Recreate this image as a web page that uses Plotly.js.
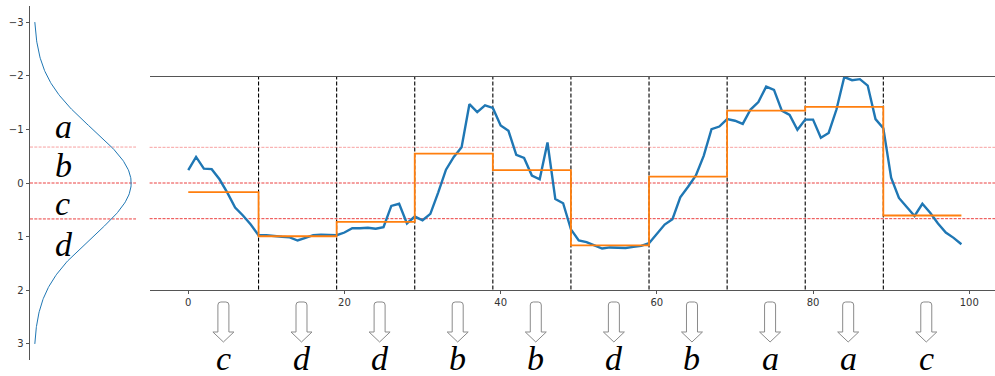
<!DOCTYPE html>
<html>
<head>
<meta charset="utf-8">
<script src="https://cdn.plot.ly/plotly-3.0.1.min.js"></script>
<style>
  html, body { margin: 0; padding: 0; background: #fff; }
  #chart { width: 995px; height: 376px; }
</style>
</head>
<body>
<div id="chart"></div>
<script>
// Time series (z-normalised), one value per time step 0..99
const series = [
  -0.24, -0.49, -0.27, -0.26, -0.07, 0.18, 0.46, 0.61, 0.78, 0.98,
   0.98, 1.00, 1.01, 1.02, 1.08, 1.03, 0.98, 0.97, 0.97, 0.98,
   0.93, 0.85, 0.85, 0.84, 0.86, 0.83, 0.43, 0.39, 0.76, 0.63,
   0.70, 0.58, 0.18, -0.25, -0.49, -0.67, -1.48, -1.33, -1.46, -1.41,
  -1.08, -0.98, -0.53, -0.47, -0.14, -0.07, -0.76, 0.30, 0.38, 0.87,
   1.08, 1.11, 1.17, 1.23, 1.21, 1.21, 1.22, 1.20, 1.18, 1.13,
   0.96, 0.78, 0.68, 0.27, 0.07, -0.14, -0.51, -1.01, -1.06, -1.20,
  -1.17, -1.11, -1.38, -1.52, -1.81, -1.75, -1.36, -1.28, -1.00, -1.19,
  -1.19, -0.85, -0.94, -1.38, -1.99, -1.93, -1.95, -1.83, -1.20, -1.03,
  -0.10, 0.28, 0.45, 0.62, 0.39, 0.56, 0.76, 0.93, 1.03, 1.15
];

// Piecewise aggregate approximation: mean of each 10-step segment
const paaMeans = [0.17, 1.00, 0.73, -0.55, -0.24, 1.17, -0.12, -1.36, -1.43, 0.61];

// SAX symbol assigned to each segment
const saxSymbols = ['c', 'd', 'd', 'b', 'b', 'd', 'b', 'a', 'a', 'c'];

// Gaussian breakpoints splitting N(0,1) into 4 equiprobable bands
const breakpoints = [-0.67, 0, 0.67];
const alphabet = ['a', 'b', 'c', 'd'];

const segLen = 10;
const timeIndex = series.map((_, i) => i);
const paaPerStep = timeIndex.map(i => paaMeans[Math.floor(i / segLen)]);

// Standard normal density for the side panel
function normalPdf(z) { return Math.exp(-0.5 * z * z) / Math.sqrt(2 * Math.PI); }
const gaussZ = [];
for (let k = 0; k <= 240; k++) gaussZ.push(-3 + k * 0.025);
const gaussP = gaussZ.map(normalPdf);

// ---- layout geometry (pixels of a 995 x 376 canvas) ----
const W = 995, H = 376;
const mainDomX = [149.6 / W, 1];
const mainRangeX = [-4.95, 103.3];
const mainDomY = [1 - 289.5 / H, 1 - 76.5 / H];
const sideDomX = [30 / W, 136 / W];
const sideDomY = [1 - 360 / H, 1 - 6 / H];
const pxY = py => 1 - py / H;
const dataToPaperX = v => mainDomX[0] + (v - mainRangeX[0]) / (mainRangeX[1] - mainRangeX[0]) * (mainDomX[1] - mainDomX[0]);

const blue = '#1f77b4', orange = '#ff7f0e';
const axisGrey = '#555';
const tickFont = { family: 'DejaVu Sans', size: 10, color: '#333' };
const letterFont = { family: 'Liberation Serif', size: 34, color: '#000' };

const traces = [
  { x: timeIndex, y: series, xaxis: 'x', yaxis: 'y', mode: 'lines',
    line: { color: blue, width: 2.4 }, hoverinfo: 'skip' },
  { x: timeIndex, y: paaPerStep, xaxis: 'x', yaxis: 'y', mode: 'lines',
    line: { color: orange, width: 1.8, shape: 'vh' }, hoverinfo: 'skip' },
  { x: gaussP, y: gaussZ, xaxis: 'x2', yaxis: 'y2', mode: 'lines',
    line: { color: blue, width: 1 }, hoverinfo: 'skip' }
];

const shapes = [];
// breakpoint lines across both panels
breakpoints.forEach((b, k) => {
  const col = k === 0 ? 'rgba(240,80,80,0.6)' : 'rgba(232,30,30,0.95)';
  ['', '2'].forEach(s => {
    shapes.push({ type: 'line', xref: 'x' + s + ' domain', yref: 'y' + s,
      x0: 0, x1: 1, y0: b, y1: b, layer: 'below',
      line: { color: col, width: 0.9, dash: '3px,1.3px' } });
  });
});
// segment boundaries (where the step changes level)
for (let k = 1; k < paaMeans.length; k++) {
  const xb = k * segLen - 1;
  shapes.push({ type: 'line', xref: 'x', yref: 'y domain', x0: xb, x1: xb, y0: 0, y1: 1,
    layer: 'below', line: { color: '#000', width: 1.1, dash: '4px,2px' } });
}
// hollow down arrows under each segment, with the segment's symbol beneath
const annotations = [];
paaMeans.forEach((_, k) => {
  const c = k * segLen + (segLen - 1) / 2;
  const cx = dataToPaperX(c);
  const hs = 5.5 / W, hh = 10.5 / W, r = 3;
  const top = 302, sb = 332, tip = 342;
  const X = dx => (cx + dx).toFixed(5);
  const Y = py => pxY(py).toFixed(5);
  const rx = r / W;
  const path = `M${X(-hs)},${Y(sb)} L${X(-hs)},${Y(top + r)} Q${X(-hs)},${Y(top)} ${X(-hs + rx)},${Y(top)} ` +
    `L${X(hs - rx)},${Y(top)} Q${X(hs)},${Y(top)} ${X(hs)},${Y(top + r)} L${X(hs)},${Y(sb)} ` +
    `L${X(hh)},${Y(sb)} L${X(0)},${Y(tip)} L${X(-hh)},${Y(sb)} Z`;
  shapes.push({ type: 'path', xref: 'paper', yref: 'paper', path: path,
    fillcolor: '#fff', line: { color: '#8a8a8a', width: 1 } });
  annotations.push({ xref: 'x', yref: 'paper', x: c, y: pxY(379), yanchor: 'bottom',
    text: '<i>' + saxSymbols[k] + '</i>', showarrow: false, font: letterFont });
});
// band letters in the side panel
const bandBaselinePx = [137, 176, 213, 255];
alphabet.forEach((s, k) => {
  annotations.push({ xref: 'paper', yref: 'paper', x: 53 / W, y: pxY(bandBaselinePx[k] - 10),
    yanchor: 'middle', text: '<i>' + s + '</i>', showarrow: false, font: letterFont });
});

const layout = {
  width: W, height: H,
  margin: { l: 0, r: 0, t: 0, b: 0 },
  paper_bgcolor: '#fff', plot_bgcolor: 'rgba(0,0,0,0)',
  showlegend: false,
  xaxis: { domain: mainDomX, range: mainRangeX, anchor: 'y',
    showline: true, mirror: true, linecolor: axisGrey, linewidth: 1,
    showgrid: false, zeroline: false,
    tickmode: 'array', tickvals: [0, 20, 40, 60, 80, 100],
    ticks: 'outside', ticklen: 3.5, tickcolor: axisGrey, tickfont: tickFont },
  yaxis: { domain: mainDomY, range: [2, -2], anchor: 'x',
    showline: false, showgrid: false, zeroline: false, showticklabels: false, ticks: '' },
  xaxis2: { domain: sideDomX, range: [-0.0153, 0.4186], anchor: 'y2',
    showline: false, showgrid: false, zeroline: false, showticklabels: false, ticks: '' },
  yaxis2: { domain: sideDomY, range: [3.3, -3.3], anchor: 'x2',
    showline: true, linecolor: axisGrey, linewidth: 1, showgrid: false, zeroline: false,
    tickmode: 'array', tickvals: [-3, -2, -1, 0, 1, 2, 3],
    ticks: 'outside', ticklen: 3.5, tickcolor: axisGrey, tickfont: tickFont },
  shapes: shapes,
  annotations: annotations
};

Plotly.newPlot('chart', traces, layout, { staticPlot: true, displayModeBar: false });
</script>
</body>
</html>
